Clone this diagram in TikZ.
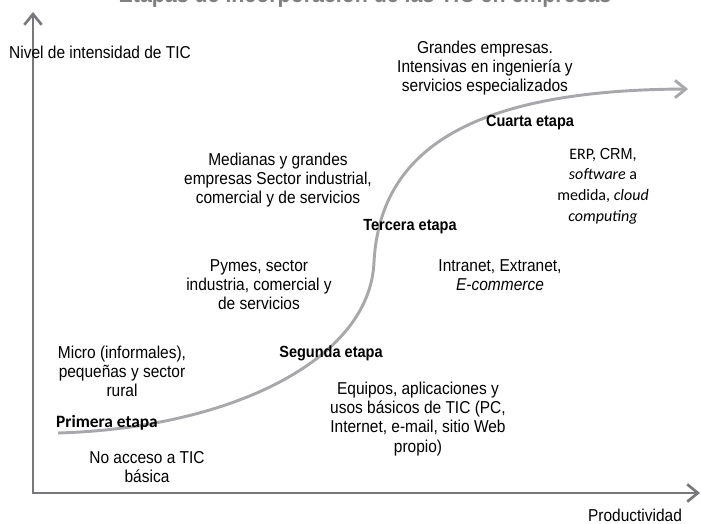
\documentclass[tikz,border=0pt]{standalone}
\usepackage{fontspec}
\setmainfont{Liberation Sans}[FakeStretch=0.9]
\newfontfamily\carlito{Carlito}
\usetikzlibrary{arrows.meta}

\definecolor{ejegris}{RGB}{120,120,124}
\definecolor{curvagris}{RGB}{168,168,172}
\definecolor{titulogris}{RGB}{128,128,128}

\begin{document}
\begin{tikzpicture}[x=0.75pt,y=-0.75pt,>={Straight Barb[length=8pt,width=13pt]},
  eje/.style={draw=ejegris,line width=2pt,<->},
  curva/.style={draw=curvagris,line width=2.2pt,->},
  texto/.style={align=center,inner sep=0pt,font=\fontsize{12.9}{14.3}\selectfont},
  etapa/.style={inner sep=0pt,font=\fontsize{12.1}{14}\selectfont\bfseries}]
\useasboundingbox (0,0) rectangle (701,524);

\coordinate (O) at (33,493);
\coordinate (Ytop) at (33,12);
\coordinate (Xend) at (700,493);
\coordinate (S) at (58,433);
\coordinate (M) at (374,262);
\coordinate (E) at (688,89);

% titulo (cortado arriba)
\node[anchor=base,inner sep=0pt,text=titulogris,font=\fontsize{17.8}{20}\selectfont\bfseries] (titulo) at (365,3) {Etapas de incorporación de las TIC en empresas};

% ejes
\draw[eje] (Ytop) -- (O) -- (Xend);
\node[texto] (nivel) at (100,52) {Nivel de intensidad de TIC};
\node[texto] (prod) at (635,515) {Productividad};

% curva de etapas
\draw[curva] (S) .. controls (230,428) and (370,360) .. (M)
  .. controls (380,150) and (470,90) .. (E);

% etapas
\node[inner sep=0pt,font=\carlito\fontsize{13}{15}\selectfont\bfseries] (primera) at (107,423) {Primera etapa};
\node[etapa] (segunda) at (331,353) {Segunda etapa};
\node[etapa] (tercera) at (410,227) {Tercera etapa};
\node[etapa] (cuarta) at (530,123) {Cuarta etapa};

% descripciones
\node[texto] (noacceso) at (147,467) {No acceso a TIC\\básica};
\node[texto] (micro) at (122,371) {Micro (informales),\\pequeñas y sector\\rural};
\node[texto] (equipos) at (418,419) {Equipos, aplicaciones y\\usos básicos de TIC (PC,\\Internet, e-mail, sitio Web\\propio)};
\node[texto] (pymes) at (259,285) {Pymes, sector\\industria, comercial y\\de servicios};
\node[texto] (intranet) at (500,275) {Intranet, Extranet,\\\textit{E-commerce}};
\node[texto] (medianas) at (278,180) {Medianas y grandes\\empresas Sector industrial,\\comercial y de servicios};
\node[texto,font=\carlito\fontsize{12}{15.6}\selectfont] (erp) at (603,186) {ERP, {\rmfamily CRM},\\\textit{software} a\\medida, \textit{cloud}\\\textit{computing}};
\node[texto] (grandes) at (485,68) {Grandes empresas.\\Intensivas en ingeniería y\\servicios especializados};
\end{tikzpicture}
\end{document}
